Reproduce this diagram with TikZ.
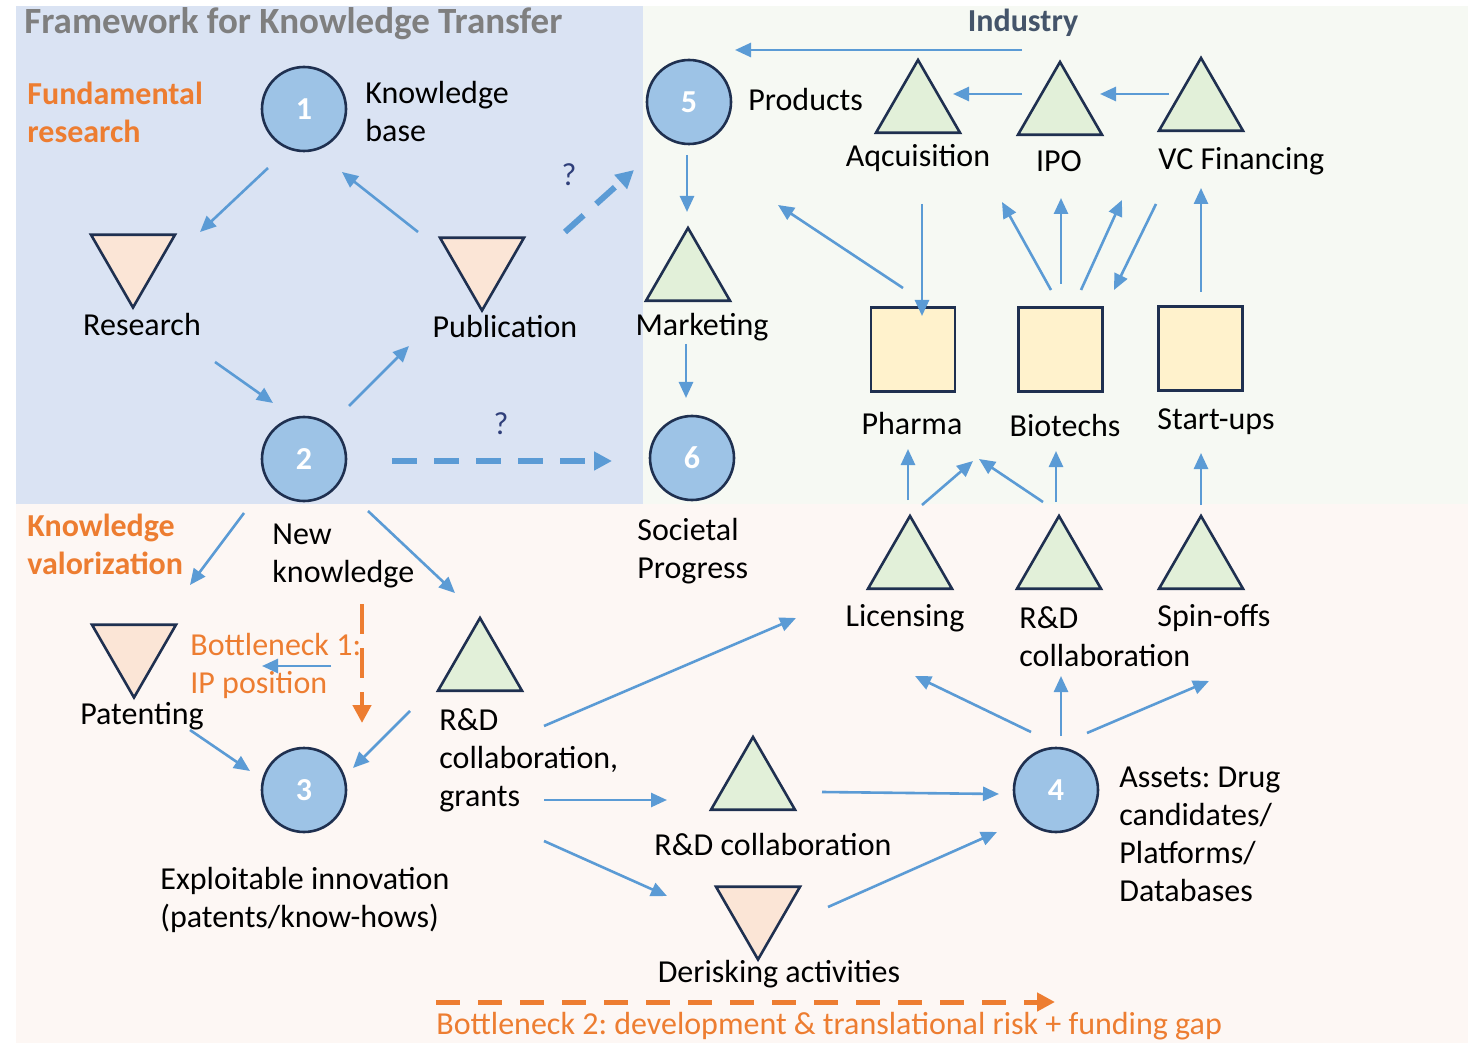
\documentclass[tikz,border=0pt]{standalone}
\usepackage{fontspec}
\setmainfont{Carlito}
\usetikzlibrary{shapes.geometric,arrows.meta}
\frenchspacing

\definecolor{bgblue}{HTML}{DAE3F3}
\definecolor{bggreen}{HTML}{F6F9F3}
\definecolor{bgpink}{HTML}{FDF7F4}
\definecolor{navy}{HTML}{1F3050}
\definecolor{circfill}{HTML}{9DC3E6}
\definecolor{peach}{HTML}{FBE5D6}
\definecolor{mint}{HTML}{E2F0D9}
\definecolor{cream}{HTML}{FFF2CC}
\definecolor{arrowblue}{HTML}{5B9BD5}
\definecolor{orangec}{HTML}{ED7D31}
\definecolor{titlegray}{HTML}{7F7F7F}
\definecolor{slate}{HTML}{44546A}
\definecolor{qblue}{HTML}{2F3F7A}

\begin{document}
\begin{tikzpicture}[x=0.5pt,y=-0.5pt,
  every node/.style={font=\fontsize{16}{19}\selectfont, inner sep=0pt},
  num/.style={circle, draw=navy, fill=circfill, line width=1.3pt, minimum size=42pt,
    text=white, font=\fontsize{16}{19}\selectfont\bfseries},
  tridown/.style={regular polygon, regular polygon sides=3, shape border rotate=180,
    draw=navy, fill=peach, line width=1.3pt, minimum size=48.5pt},
  triup/.style={regular polygon, regular polygon sides=3,
    draw=navy, fill=mint, line width=1.3pt, minimum size=48.5pt},
  firm/.style={rectangle, draw=navy, fill=cream, line width=1.3pt, minimum size=42pt},
  lbl/.style={align=left, anchor=west},
  head/.style={align=left, anchor=west, text=orangec, font=\fontsize{16}{19}\selectfont\bfseries},
  arr/.style={draw=arrowblue, line width=1.3pt, -{Triangle[length=8pt,width=7pt]}},
  dasharr/.style={draw=arrowblue, line width=3pt, dash pattern=on 12.5pt off 8.5pt,
    -{Triangle[length=9pt,width=9pt]}},
  oarr/.style={draw=orangec, line width=2.5pt, dash pattern=on 12pt off 9pt,
    -{Triangle[length=9pt,width=9pt]}}
]
\useasboundingbox (0,0) rectangle (1468,1043);
\fill[white] (0,0) rectangle (1468,1043);
% background panels
\fill[bgblue] (16,6) rectangle (643,504);
\fill[bggreen] (643,6) rectangle (1468,504);
\fill[bgpink] (16,504) rectangle (1468,1043);

% headings
\node[anchor=west, text=titlegray, font=\fontsize{18.5}{22}\selectfont\bfseries] (title) at (24,24) {Framework for Knowledge Transfer};
\node[text=slate, font=\fontsize{16}{19}\selectfont\bfseries] (industry) at (1023,23) {Industry};
\node[head] (fund) at (27,112) {Fundamental\\research};
\node[head] (kval) at (27,544) {Knowledge\\valorization};

% milestones
\node[num] (c1) at (304,109) {1};
\node[num] (c2) at (304,459) {2};
\node[num] (c3) at (304,790) {3};
\node[num] (c4) at (1056,790) {4};
\node[num] (c5) at (689,102) {5};
\node[num] (c6) at (692,458) {6};

% activities
\node[tridown] (res) at (133,259) {};
\node[tridown] (pub) at (482,262) {};
\node[tridown] (pat) at (134,649) {};
\node[tridown] (der) at (758,911) {};
\node[triup] (mkt) at (688,276.5) {};
\node[triup] (acq) at (918,108.5) {};
\node[triup] (ipo) at (1060,110.5) {};
\node[triup] (vc) at (1201,106.5) {};
\node[triup] (rdl) at (480,666.5) {};
\node[triup] (rdm) at (753,785.5) {};
\node[triup] (lic) at (910,564.5) {};
\node[triup] (rdr) at (1059,564.5) {};
\node[triup] (spin) at (1201,564.5) {};

% companies
\node[firm] (pharma) at (913,349.5) {};
\node[firm] (bio) at (1060.5,349.5) {};
\node[firm] (start) at (1200.5,348.5) {};

% labels
\node[lbl] (kbase) at (365,112) {Knowledge\\base};
\node (reslbl) at (142,325) {Research};
\node (publbl) at (505,327) {Publication};
\node[lbl] (prodlbl) at (748,100) {Products};
\node (mktlbl) at (702,327) {Marketing};
\node (acqlbl) at (918,158) {Aqcuisition};
\node (ipolbl) at (1059,161) {IPO};
\node[lbl] (vclbl) at (1158,161) {VC Financing};
\node (pharmalbl) at (912,424) {Pharma};
\node (biolbl) at (1065,426) {Biotechs};
\node (startlbl) at (1216,422) {Start-ups};
\node[lbl] (soclbl) at (637,551) {Societal\\Progress};
\node[lbl] (newk) at (272,556) {New\\knowledge};
\node (liclbl) at (905,618) {Licensing};
\node[lbl] (rdrlbl) at (1019,637) {R\&D\\collaboration};
\node (spinlbl) at (1214,618) {Spin-offs};
\node (patlbl) at (142,716) {Patenting};
\node[lbl, text=orangec] (bn1) at (190,666) {Bottleneck 1:\\IP position};
\node[lbl] (rdllbl) at (439,760) {R\&D\\collaboration,\\grants};
\node[lbl] (exlbl) at (160,900) {Exploitable innovation\\(patents/know-hows)};
\node (rdmlbl) at (773,845) {R\&D collaboration};
\node[lbl] (assets) at (1119,834.5) {Assets: Drug\\candidates/\\Platforms/\\Databases};
\node (derlbl) at (779,974) {Derisking activities};
\node[lbl, text=orangec] (bn2) at (436,1026) {Bottleneck 2: development \& translational risk + funding gap};
\node[text=qblue] (q1) at (569,175) {?};
\node[text=qblue] (q2) at (501,424) {?};

% fundamental research cycle
\draw[arr] ([shift={(-36,59)}]c1.center) -- ([shift={(67,-27)}]res.center);
\draw[arr] ([shift={(-64,-30)}]pub.center) -- ([shift={(38,63)}]c1.center);
\draw[arr] ([shift={(82,103)}]res.center) -- ([shift={(-31,-56)}]c2.center);
\draw[arr] ([shift={(45,-53)}]c2.center) -- ([shift={(-73,84)}]pub.center);
\draw[dasharr] ([shift={(83,-30)}]pub.center) -- ([shift={(-55,68)}]c5.center);
\draw[dasharr] ([shift={(88,2)}]c2.center) -- ([shift={(-80,3)}]c6.center);

% industry
\draw[arr] ([shift={(-1,27)}]industry.center) -- ([shift={(46,-52)}]c5.center);
\draw[arr] ([shift={(-2,53)}]c5.center) -- ([shift={(-1,-64.5)}]mkt.center);
\draw[arr] ([shift={(-2,67.5)}]mkt.center) -- ([shift={(-6,-60)}]c6.center);
\draw[arr] ([shift={(-38,-16.5)}]ipo.center) -- ([shift={(35,-14.5)}]acq.center);
\draw[arr] ([shift={(-32,-12.5)}]vc.center) -- ([shift={(40,-16.5)}]ipo.center);
\draw[arr] ([shift={(-10,-61.5)}]pharma.center) -- ([shift={(89,103)}]c5.center);
\draw[arr] ([shift={(4,95.5)}]acq.center) -- ([shift={(9,-33.5)}]pharma.center);
\draw[arr] ([shift={(-9.5,-59.5)}]bio.center) -- ([shift={(84,93.5)}]acq.center);
\draw[arr] ([shift={(0.5,-65.5)}]bio.center) -- ([shift={(1,87.5)}]ipo.center);
\draw[arr] ([shift={(20.5,-59.5)}]bio.center) -- ([shift={(-79,93.5)}]vc.center);
\draw[arr] ([shift={(-45,97.5)}]vc.center) -- ([shift={(53.5,-59.5)}]bio.center);
\draw[arr] ([shift={(0.5,-56.5)}]start.center) -- ([shift={(0,81.5)}]vc.center);
\draw[arr] ([shift={(-2,-64.5)}]lic.center) -- ([shift={(-5,99.5)}]pharma.center);
\draw[arr] ([shift={(12,-59.5)}]lic.center) -- ([shift={(60,111.5)}]pharma.center);
\draw[arr] ([shift={(-16,-62.5)}]rdr.center) -- ([shift={(-81.5,109.5)}]bio.center);
\draw[arr] ([shift={(-3,-62.5)}]rdr.center) -- ([shift={(-4.5,101.5)}]bio.center);
\draw[arr] ([shift={(0,-59.5)}]spin.center) -- ([shift={(0.5,104.5)}]start.center);

% knowledge valorization
\draw[arr] ([shift={(-60,54)}]c2.center) -- ([shift={(56,-64)}]pat.center);
\draw[arr] ([shift={(64,52)}]c2.center) -- ([shift={(-25,-73.5)}]rdl.center);
\draw[oarr, dash pattern=on 15pt off 7pt, line width=2.2pt] ([shift={(90,48)}]newk.west) -- ([shift={(58,-67)}]c3.center);
\draw[arr] ([shift={(141,0)}]bn1.west) -- ([shift={(72,0)}]bn1.west);
\draw[arr] ([shift={(56,81)}]pat.center) -- ([shift={(-54,-19)}]c3.center);
\draw[arr] ([shift={(-70,44.5)}]rdl.center) -- ([shift={(49,-22)}]c3.center);
\draw[arr] ([shift={(64,59.5)}]rdl.center) -- ([shift={(-114,53.5)}]lic.center);
\draw[arr] ([shift={(64,133.5)}]rdl.center) -- ([shift={(-86,14.5)}]rdm.center);
\draw[arr] ([shift={(64,174.5)}]rdl.center) -- ([shift={(-91,-15)}]der.center);
\draw[arr] ([shift={(69,6.5)}]rdm.center) -- ([shift={(-57,4)}]c4.center);
\draw[arr] ([shift={(70,-4)}]der.center) -- ([shift={(-59,42)}]c4.center);
\draw[arr] ([shift={(-25,-58)}]c4.center) -- ([shift={(5,111.5)}]lic.center);
\draw[arr] ([shift={(5,-54)}]c4.center) -- ([shift={(2,111.5)}]rdr.center);
\draw[arr] ([shift={(31,-57)}]c4.center) -- ([shift={(8,116.5)}]spin.center);
\draw[oarr] ([shift={(0,-24)}]bn2.west) -- ([shift={(-1,212)}]c4.center);
\end{tikzpicture}
\end{document}
